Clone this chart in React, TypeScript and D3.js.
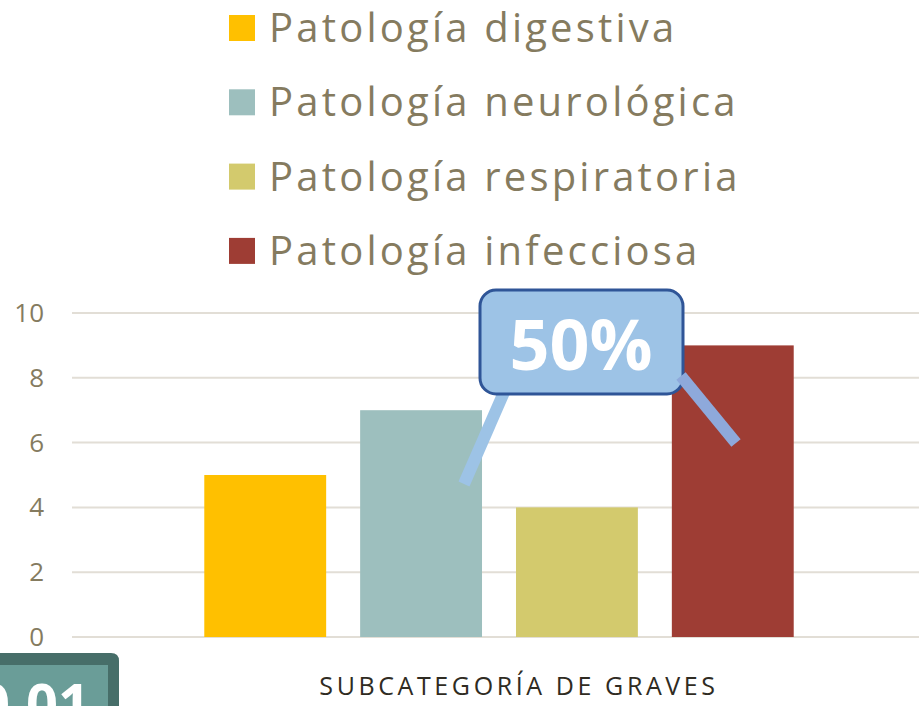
import React from 'react';
import * as d3 from 'd3';

const series = ['Patología digestiva', 'Patología neurológica', 'Patología respiratoria', 'Patología infecciosa'];
const values = [5, 7, 4, 9];
const colors = ['#FFC000', '#9DBFBE', '#D3CA6D', '#9E3D34'];
const yTicks = [0, 2, 4, 6, 8, 10];
const category = 'SUBCATEGORÍA DE GRAVES';

const W = 919;
const H = 706;
const font = '"Open Sans", Lato, sans-serif';
const textColor = '#857B5F';

export default function App() {
  const y = d3.scaleLinear().domain([0, 10]).range([637, 313]);
  // bars sit inside the single category band
  const x = d3.scaleBand<string>().domain(series).range([170, 828]).paddingInner(0.218).paddingOuter(0.22);

  return (
    <svg width={W} height={H} style={{ position: 'fixed', left: 0, top: 0 }}>
      <rect width={W} height={H} fill="#fff" />
      {/* legend */}
      {series.map((s, i) => (
        <g key={s} transform={`translate(229,${28 + i * 74.3})`}>
          <rect x={0} y={-13} width={26} height={26} fill={colors[i]} />
          <text x={40} y={14} fontSize={40} fill={textColor} fontFamily={font} letterSpacing={3.2}>{s}</text>
        </g>
      ))}
      {/* grid + y ticks */}
      {yTicks.map(t => (
        <g key={t}>
          <line x1={72} x2={W} y1={y(t)} y2={y(t)} stroke="#E2DED6" strokeWidth={2} />
          <text x={44} y={y(t) + 9} textAnchor="end" fontSize={26} fill={textColor} fontFamily={font}>{t}</text>
        </g>
      ))}
      {/* bars */}
      {series.map((s, i) => (
        <rect key={s} x={x(s)} y={y(values[i])} width={x.bandwidth()} height={y(0) - y(values[i])} fill={colors[i]} />
      ))}
      <text x={519} y={695} textAnchor="middle" fontSize={25} fill="#2F2B22" fontFamily={font} letterSpacing={3.6}>{category}</text>
      {/* callout */}
      <line x1={505} y1={390} x2={464} y2={484} stroke="#9DC3E6" strokeWidth={12} />
      <rect x={480} y={290} width={203} height={104} rx={16} fill="#9DC3E6" stroke="#2F5597" strokeWidth={3} />
      <line x1={681} y1={376} x2={736} y2={443} stroke="#8EA9DB" strokeWidth={12} />
      <text x={581} y={370} textAnchor="middle" fontSize={70} fontWeight="bold" fill="#fff" fontFamily={font}>50%</text>
      {/* bottom-left badge */}
      <path d="M-10,653 H111 Q119,653 119,661 V720 H-10 Z" fill="#476E69" />
      <rect x={-10} y={665} width={118} height={60} fill="#6A9D98" />
      <text x={-22} y={724} fontSize={56} fontWeight="bold" fill="#fff" fontFamily={font}>0.01</text>
    </svg>
  );
}
